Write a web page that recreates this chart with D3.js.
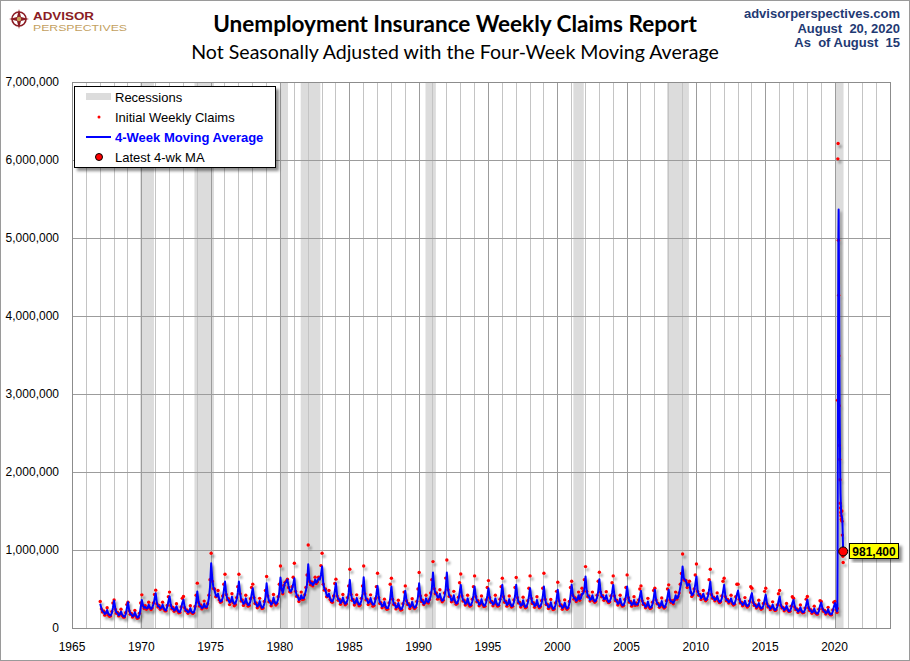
<!DOCTYPE html>
<html><head><meta charset="utf-8">
<script src="https://cdn.jsdelivr.net/npm/d3@7"></script>
<style>body{margin:0;background:#fff}svg{display:block}</style>
</head><body>
<svg id="chart" width="910" height="661"></svg>
<script>
// ---------- DATA (values in thousands) ----------
const startYear = 1967;
// Monthly 4-week moving average, Jan 1967 .. Feb 2020
const maK = [
310,250,215,205,180,190,230,185,165,160,190,260,
350,250,200,190,165,175,210,170,150,145,175,250,
330,230,185,175,150,160,200,160,135,135,170,260,
360,290,260,270,250,255,300,265,245,260,300,370,
445,320,280,275,250,260,300,255,230,225,270,340,
404,300,255,250,225,235,280,230,205,205,250,320,
362,270,230,220,200,210,255,210,195,200,245,330,
468,340,290,280,255,265,310,270,265,300,380,520,
830,620,520,485,420,404,440,370,340,345,385,480,
595,440,375,360,325,340,400,340,310,315,360,450,
595,450,360,345,310,320,380,325,295,300,345,430,
510,400,330,305,275,290,345,290,260,265,310,400,
574,420,350,330,300,320,390,335,310,325,370,460,
646,500,450,520,580,590,620,540,480,470,500,560,
638,480,420,400,360,370,420,380,380,420,480,560,
817,620,570,580,550,570,620,580,600,638,620,680,
787,580,500,485,420,404,440,380,345,340,380,470,
574,420,370,360,320,340,390,345,310,320,360,450,
617,440,370,355,315,330,385,330,300,305,350,440,
650,450,375,360,320,330,385,330,300,300,345,430,
540,400,330,315,275,285,335,280,255,255,295,380,
532,380,310,300,260,270,320,270,240,245,285,370,
476,360,310,300,265,280,335,285,260,270,310,400,
574,420,350,345,310,320,380,340,330,360,410,500,
711,520,450,440,390,390,440,380,350,360,410,500,
711,500,420,400,350,360,420,350,315,320,360,450,
553,420,360,345,310,320,380,320,290,295,340,420,
532,410,350,340,300,310,370,315,285,285,330,410,
510,400,340,330,300,315,380,320,290,295,340,420,
553,410,345,335,295,310,370,310,280,285,330,410,
553,400,330,320,285,295,355,300,270,275,320,400,
510,390,325,315,280,295,360,300,270,280,320,400,
532,380,310,295,265,275,330,275,245,250,290,370,
489,360,295,285,255,270,325,275,250,260,310,410,
553,430,380,380,350,365,420,370,380,440,440,500,
660,480,410,400,360,370,420,365,340,350,390,470,
626,470,410,405,370,375,420,360,335,340,380,450,
553,420,360,345,310,320,380,315,290,295,335,410,
532,400,340,330,295,305,360,300,300,300,330,400,
476,360,310,300,270,285,340,285,260,265,305,380,
489,370,320,305,275,290,345,290,265,275,320,400,
489,370,340,340,320,350,420,380,390,440,520,600,
787,640,620,600,540,560,560,470,420,430,470,560,
660,480,430,420,380,400,440,390,360,370,410,490,
595,440,390,385,360,370,410,360,335,340,380,460,
553,410,360,355,330,340,380,330,305,310,360,430,
480,380,330,320,295,310,350,300,280,290,320,400,
447,340,300,290,265,280,320,275,250,255,290,360,
425,320,280,270,245,260,300,255,230,235,270,340,
404,300,265,255,230,245,285,240,215,220,255,320,
362,280,245,235,210,225,265,220,200,205,235,300,
362,270,235,225,200,210,250,205,185,185,215,285,
327,255,225,215,190,200,240,195,175,175,210,275,
319,245
];
// Monthly initial weekly claims (representative week), Jan 1967 .. Feb 2020
const claimsK = [
340,245,205,220,165,195,260,170,150,155,210,320,
360,240,190,200,155,180,240,160,140,140,195,300,
330,220,175,185,140,165,225,150,125,130,190,320,
425,285,250,285,240,260,330,255,235,255,320,430,
485,310,270,290,240,265,330,245,220,220,290,400,
460,290,245,265,215,240,310,220,195,200,270,380,
404,260,220,230,190,215,285,200,185,195,275,420,
575,330,280,295,245,270,345,265,260,310,420,620,
958,600,505,500,400,410,480,360,330,340,410,560,
690,430,360,375,300,345,440,325,285,300,390,530,
690,440,345,360,290,325,420,310,280,290,375,520,
562,390,315,320,260,295,380,275,250,255,340,480,
660,410,335,345,285,325,430,320,295,315,400,560,
795,490,440,545,585,600,626,520,465,460,530,650,
830,470,405,410,340,375,460,365,370,425,520,680,
1064,600,555,590,540,580,650,570,590,650,640,800,
958,560,485,500,400,410,480,365,335,330,410,570,
626,410,355,370,305,345,430,330,298,310,390,540,
753,430,355,365,295,335,425,315,285,295,380,540,
795,440,360,370,300,335,425,315,280,290,375,530,
702,390,315,325,260,290,370,265,240,245,320,560,
638,370,300,310,245,275,355,255,230,235,310,460,
540,350,300,310,250,285,375,270,250,265,340,500,
711,410,340,355,300,325,420,330,320,365,450,620,
851,505,440,450,370,395,490,365,335,355,450,640,
872,490,405,410,335,365,470,335,305,315,395,580,
693,410,345,355,295,325,420,305,280,290,370,530,
668,400,335,350,285,315,410,300,275,280,360,520,
608,390,330,340,285,320,420,305,280,290,370,530,
638,400,330,345,280,315,410,295,270,280,360,520,
647,390,320,330,270,300,395,285,260,270,350,510,
668,380,315,325,265,300,400,285,260,275,350,510,
702,370,300,305,250,280,365,260,235,245,320,470,
587,350,285,295,240,275,360,260,240,255,340,520,
600,420,370,390,340,370,460,355,420,510,470,620,
787,470,400,410,345,375,460,350,330,345,420,600,
715,460,400,415,355,380,465,345,325,335,410,580,
668,410,350,355,295,325,420,300,280,290,365,520,
681,390,330,340,280,310,400,290,320,295,360,500,
540,350,300,310,260,290,380,270,250,260,330,480,
511,360,310,315,265,295,385,275,255,270,350,500,
553,360,330,350,310,360,460,370,400,450,560,700,
949,620,610,610,520,570,600,455,405,425,500,680,
821,470,420,430,365,405,480,375,350,365,440,620,
753,430,380,395,350,375,450,345,325,335,410,600,
638,400,350,365,320,345,420,315,295,305,400,560,
562,370,320,330,285,315,390,290,270,285,345,530,
510,330,290,300,255,285,355,265,240,250,315,470,
510,310,270,280,235,265,335,245,225,230,295,440,
481,290,255,265,220,250,315,230,210,215,280,400,
383,270,235,245,200,230,295,210,195,200,255,370,
404,260,225,235,190,215,280,195,180,180,240,350,
340,245,215,225,180,205,265,185,170,170,230,330,
340,235
];
// Weekly data for the 2020 surge
const weeks2020 = ["2020-03-07","2020-03-14","2020-03-21","2020-03-28","2020-04-04","2020-04-11",
  "2020-04-18","2020-04-25","2020-05-02","2020-05-09","2020-05-16","2020-05-23","2020-05-30",
  "2020-06-06","2020-06-13","2020-06-20","2020-06-27","2020-07-04","2020-07-11","2020-07-18",
  "2020-07-25","2020-08-01","2020-08-08","2020-08-15"];
const claims2020K = [200,251,2920,6015,6211,4971,4267,3489,2849,2340,2160,1900,1600,
  1540,1480,1440,1390,1400,1500,1370,1191,975,920,840];
const ma2020K = [212,220,900,2346,3849,5029,5366,4738,3897,3244,2706,2311,1947,
  1731,1617,1523,1467,1430,1434,1416,1364,1259,1114,981.4];
const recessions = [["1969-12-01","1970-11-30"],["1973-11-01","1975-03-31"],["1980-01-01","1980-07-31"],
  ["1981-07-01","1982-11-30"],["1990-07-01","1991-03-31"],["2001-03-01","2001-11-30"],
  ["2007-12-01","2009-06-30"],["2020-02-01","2020-08-25"]];
const yTicks = [0,1000000,2000000,3000000,4000000,5000000,6000000,7000000];
const xTickYears = [1965,1970,1975,1980,1985,1990,1995,2000,2005,2010,2015,2020];
const latestMA = 981400;
const latestDate = "2020-08-15";
const titleText = "Unemployment Insurance Weekly Claims Report";
const subtitleText = "Not Seasonally Adjusted with the Four-Week Moving Average";
const sourceLines = ["advisorperspectives.com","August  20, 2020","As  of August  15"];
const legendItems = ["Recessions","Initial Weekly Claims","4-Week Moving Average","Latest 4-wk MA"];
const logoWords = ["ADVISOR","PERSPECTIVES"];

// ---------- BUILD ----------
const parse = d3.timeParse("%Y-%m-%d");
const monthly = maK.map((v,i)=>({date:new Date(startYear+Math.floor(i/12), i%12, 15), ma:v*1000, claims:claimsK[i]*1000}));
const weekly = weeks2020.map((s,i)=>({date:parse(s), ma:ma2020K[i]*1000, claims:claims2020K[i]*1000}));
const series = monthly.concat(weekly);

const W=910,H=661, L=72,R=890,T=82,B=628;
const svg = d3.select("#chart");
const defs = svg.append("defs");
const f = defs.append("filter").attr("id","sh").attr("x","-10%").attr("y","-10%").attr("width","120%").attr("height","120%");
f.append("feDropShadow").attr("dx",2).attr("dy",3).attr("stdDeviation",1.3).attr("flood-color","#000").attr("flood-opacity",0.35);
const f2 = defs.append("filter").attr("id","sh2").attr("x","-20%").attr("y","-20%").attr("width","150%").attr("height","150%");
f2.append("feDropShadow").attr("dx",3).attr("dy",3).attr("stdDeviation",1.5).attr("flood-color","#000").attr("flood-opacity",0.45);

svg.append("rect").attr("x",0).attr("y",0).attr("width",W).attr("height",H).attr("fill","#fff");
svg.append("rect").attr("x",0.5).attr("y",0.5).attr("width",W-1).attr("height",H-1).attr("fill","none").attr("stroke","#9a9a9a");

const x = d3.scaleTime().domain([new Date(1965,0,1), new Date(2024,0,1)]).range([L,R]);
const y = d3.scaleLinear().domain([0,7000000]).range([B,T]);

// recessions
svg.append("g").selectAll("rect").data(recessions).join("rect")
  .attr("x",d=>x(parse(d[0]))).attr("y",T)
  .attr("width",d=>x(parse(d[1]))-x(parse(d[0]))).attr("height",B-T)
  .attr("fill","#dcdcdc");

// grid
const years = d3.timeYear.range(new Date(1966,0,1), new Date(2024,0,1));
svg.append("g").selectAll("line").data(years).join("line")
  .attr("x1",d=>Math.round(x(d))+0.5).attr("x2",d=>Math.round(x(d))+0.5).attr("y1",T).attr("y2",B)
  .attr("stroke",d=>d.getFullYear()%5===0?"#9c9c9c":"#c4c4c4").attr("stroke-width",1);
svg.append("g").selectAll("line").data(yTicks.slice(1)).join("line")
  .attr("x1",L).attr("x2",R).attr("y1",d=>Math.round(y(d))+0.5).attr("y2",d=>Math.round(y(d))+0.5)
  .attr("stroke","#9c9c9c");
svg.append("rect").attr("x",L+0.5).attr("y",T+0.5).attr("width",R-L).attr("height",B-T)
  .attr("fill","none").attr("stroke","#8c8c8c");

// axes labels
svg.append("g").selectAll("text").data(yTicks).join("text")
  .attr("x",59).attr("y",d=>y(d)).attr("dy","0.36em").attr("text-anchor","end")
  .attr("font-family","'Liberation Sans',Arial,sans-serif").attr("font-size",12).attr("fill","#000")
  .text(d3.format(","));
svg.append("g").selectAll("text").data(xTickYears).join("text")
  .attr("x",d=>x(new Date(d,0,1))).attr("y",651).attr("text-anchor","middle")
  .attr("font-family","'Liberation Sans',Arial,sans-serif").attr("font-size",12).attr("fill","#000")
  .text(d=>d);

// data
const dg = svg.append("g").attr("filter","url(#sh)");
dg.append("g").selectAll("circle").data(series).join("circle")
  .attr("cx",d=>x(d.date)).attr("cy",d=>y(d.claims)).attr("r",1.7).attr("fill","#ff0000");
dg.append("path").datum(series)
  .attr("d",d3.line().x(d=>x(d.date)).y(d=>y(d.ma)))
  .attr("fill","none").attr("stroke","#0000ff").attr("stroke-width",2).attr("stroke-linejoin","round");

// latest marker + label
const lx = x(parse(latestDate)), ly = y(latestMA);
svg.append("circle").attr("cx",lx).attr("cy",ly).attr("r",4.5).attr("fill","#ff0000").attr("stroke","#000").attr("stroke-width",1);
const lb = svg.append("g").attr("transform",`translate(${Math.round(lx)+6},${Math.round(ly)-8})`);
lb.append("rect").attr("x",0.5).attr("y",0.5).attr("width",49).attr("height",15).attr("fill","#ffff00").attr("stroke","#000").attr("filter","url(#sh2)");
lb.append("text").attr("x",25).attr("y",12.5).attr("text-anchor","middle")
  .attr("font-family","'Liberation Sans',Arial,sans-serif").attr("font-size",12).attr("font-weight","bold")
  .text(d3.format(",")(latestMA));

// legend
const lg = svg.append("g");
lg.append("rect").attr("x",74.5).attr("y",86.5).attr("width",201).attr("height",81).attr("fill","#fff").attr("stroke","#000").attr("filter","url(#sh2)");
lg.append("rect").attr("x",86).attr("y",93).attr("width",25).attr("height",7).attr("fill","#dcdcdc");
lg.append("circle").attr("cx",99).attr("cy",117).attr("r",1.5).attr("fill","#ff0000");
lg.append("line").attr("x1",86).attr("x2",111).attr("y1",137).attr("y2",137).attr("stroke","#0000ff").attr("stroke-width",2);
lg.append("circle").attr("cx",99).attr("cy",157).attr("r",3.5).attr("fill","#ff0000").attr("stroke","#000");
lg.selectAll("text").data(legendItems).join("text")
  .attr("x",115).attr("y",(d,i)=>101.5+i*20)
  .attr("font-family","'Liberation Sans',Arial,sans-serif").attr("font-size",13)
  .attr("font-weight",(d,i)=>i===2?"bold":"normal").attr("fill",(d,i)=>i===2?"#0000ff":"#000")
  .text(d=>d);

// titles
function fitText(sel, target){ const n=sel.node(); const len=n.getComputedTextLength(); const fs=+sel.attr("font-size"); sel.attr("font-size", fs*target/len); }
const t1 = svg.append("text").attr("x",455).attr("y",32).attr("text-anchor","middle")
  .attr("font-family","Lato,'Open Sans',sans-serif").attr("font-weight","bold").attr("font-size",20).text(titleText);
fitText(t1,484);
const t2 = svg.append("text").attr("x",455).attr("y",59).attr("text-anchor","middle")
  .attr("font-family","Lato,'Open Sans',sans-serif").attr("font-size",18).text(subtitleText);
fitText(t2,528);

// source block
svg.append("g").selectAll("text").data(sourceLines).join("text")
  .attr("x",900).attr("y",(d,i)=>18+i*14.5).attr("text-anchor","end").attr("xml:space","preserve")
  .attr("font-family","'Liberation Sans',Arial,sans-serif").attr("font-size",13).attr("font-weight","bold")
  .attr("fill","#1f3a73").text(d=>d);

// logo
const logo = svg.append("g");
logo.append("circle").attr("cx",19).attr("cy",19).attr("r",7).attr("fill","none").attr("stroke","#8b1c24").attr("stroke-width",1.6);
logo.append("path").attr("d","M19,9 L21,17 L29,19 L21,21 L19,29 L17,21 L9,19 L17,17 Z").attr("fill","#8b1c24");
logo.append("circle").attr("cx",19).attr("cy",19).attr("r",2.2).attr("fill","#c9a25e");
logo.append("text").attr("x",33).attr("y",19.5).attr("font-family","'Liberation Sans',Arial,sans-serif")
  .attr("font-weight","bold").attr("font-size",10).attr("fill","#8b1c24")
  .attr("textLength",61).attr("lengthAdjust","spacingAndGlyphs").text(logoWords[0]);
logo.append("text").attr("x",33).attr("y",30.5).attr("font-family","'Liberation Sans',Arial,sans-serif")
  .attr("font-size",9).attr("fill","#c3a060")
  .attr("textLength",94).attr("lengthAdjust","spacingAndGlyphs").text(logoWords[1]);
</script>
</body></html>
